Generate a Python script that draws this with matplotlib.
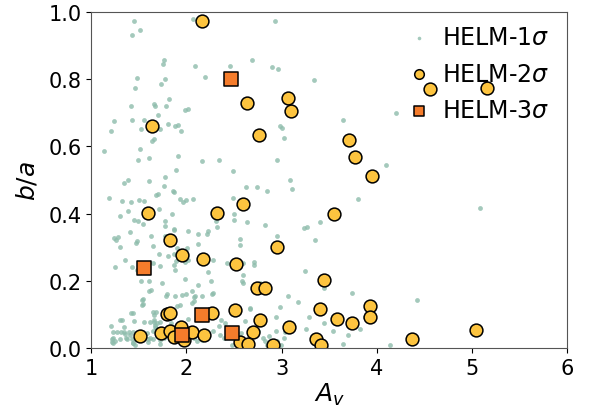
import matplotlib
matplotlib.use('Agg')
import matplotlib.pyplot as plt
import numpy as np

# HELM-1sigma (small dots)
av_1s = [1.448, 1.515, 1.43, 2.07, 2.93, 1.76, 1.75, 2.09, 2.46, 2.69, 2.895, 2.96,
         2.2, 1.48, 1.78, 3.34, 1.73, 1.46, 1.82, 1.66, 1.67, 1.79, 1.42, 2.02, 1.99,
         1.245, 1.70, 1.43, 1.56, 1.91, 1.81, 1.88, 1.21, 1.94, 1.52, 1.72, 1.66, 1.64,
         1.14, 1.51, 1.61, 1.49, 1.915, 2.16, 2.34, 2.98, 3.0, 3.03, 3.645, 4.2, 2.95,
         3.09, 3.11, 2.49, 4.10, 3.80, 5.08, 1.39, 1.34, 1.61, 1.78, 1.89, 1.855, 1.875,
         1.705, 1.68, 1.76, 1.19, 1.50, 1.56, 1.32, 1.42, 1.93, 1.96, 2.0, 2.07, 2.63,
         2.74, 2.85, 2.49, 1.30, 1.39, 1.71, 1.85, 1.45, 1.49, 1.54, 1.78, 1.78, 2.50,
         2.50, 2.31, 2.32, 2.64, 2.83, 3.24, 3.27, 3.40, 2.02, 2.12, 2.23, 2.22, 1.87,
         1.875, 1.41, 1.63, 1.78, 1.245, 1.265, 1.28, 1.48, 1.47, 1.30, 1.90, 2.01, 2.12,
         2.56, 2.56, 2.95, 3.35, 1.65, 1.36, 1.81, 1.71, 1.87, 2.02, 1.99, 1.89, 1.87,
         1.72, 1.645, 2.43, 2.6, 2.71, 2.71, 2.28, 1.25, 1.43, 1.48, 1.88, 2.23, 3.25,
         2.60, 1.52, 1.61, 1.74, 1.99, 2.26, 2.58, 2.60, 2.77, 2.79, 2.81, 3.45, 1.63,
         2.12, 2.06, 1.80, 2.0, 2.28, 3.74, 1.54, 1.54, 1.88, 2.09, 3.07, 3.17, 4.42,
         1.44, 1.685, 1.93, 2.08, 2.12, 2.26, 2.48, 2.67, 2.98, 1.325, 1.66, 1.69, 1.67,
         1.84, 2.02, 2.36, 2.41, 2.615, 2.94, 3.29, 3.45, 3.54, 3.82, 3.88, 2.94, 3.04,
         3.26, 3.70, 3.645, 4.14, 4.38,
         1.61, 1.79, 1.53, 1.53, 1.42, 1.65, 1.66, 1.30, 1.45, 1.55, 1.62, 1.655, 1.72,
         1.21, 1.34, 1.67, 1.23, 1.27, 1.31, 1.35, 1.40, 1.44, 1.50, 1.22, 1.30, 1.375,
         1.43, 1.46, 1.60, 1.65, 1.22, 1.44, 1.60, 1.72,
         1.23, 1.25, 1.23, 1.36, 1.37, 1.41, 1.44, 1.46, 1.49, 1.53, 1.59, 1.62, 1.645,
         1.685, 1.705, 1.725, 1.76, 1.80, 1.89, 1.92, 1.96, 2.04, 2.08, 2.11, 2.16, 2.22,
         2.28, 2.34, 2.35, 2.40, 2.43, 2.48, 2.52, 2.575, 2.615, 2.675, 2.75, 2.81, 2.83,
         2.85, 2.87, 2.95, 2.99, 3.03,
         1.95, 2.085, 2.16, 2.27, 2.06, 1.90, 2.67]
ba_1s = [0.974, 0.945, 0.93, 0.98, 0.974, 0.856, 0.846, 0.84, 0.838, 0.856, 0.835, 0.83,
         0.806, 0.804, 0.80, 0.796, 0.786, 0.773, 0.74, 0.726, 0.72, 0.72, 0.72, 0.712, 0.707,
         0.676, 0.694, 0.677, 0.677, 0.664, 0.665, 0.659, 0.645, 0.645, 0.65, 0.652, 0.622, 0.615,
         0.587, 0.591, 0.565, 0.56, 0.57, 0.556, 0.558, 0.66, 0.653, 0.625, 0.677, 0.698, 0.558,
         0.499, 0.472, 0.528, 0.543, 0.444, 0.417, 0.50, 0.49, 0.498, 0.508, 0.53, 0.466, 0.464,
         0.459, 0.454, 0.481, 0.445, 0.441, 0.436, 0.438, 0.434, 0.443, 0.434, 0.44, 0.444, 0.48,
         0.48, 0.467, 0.447, 0.394, 0.407, 0.414, 0.399, 0.38, 0.377, 0.37, 0.377, 0.363, 0.399,
         0.38, 0.379, 0.361, 0.374, 0.367, 0.357, 0.359, 0.374, 0.347, 0.34, 0.347, 0.34, 0.355,
         0.35, 0.344, 0.333, 0.332, 0.327, 0.322, 0.33, 0.317, 0.312, 0.30, 0.296, 0.298, 0.31,
         0.323, 0.305, 0.334, 0.322, 0.302, 0.263, 0.273, 0.28, 0.28, 0.263, 0.256, 0.258, 0.248,
         0.243, 0.254, 0.253, 0.253, 0.255, 0.248, 0.263, 0.242, 0.24, 0.232, 0.233, 0.225, 0.228,
         0.216, 0.20, 0.198, 0.194, 0.205, 0.20, 0.198, 0.193, 0.193, 0.186, 0.177, 0.179, 0.174,
         0.187, 0.169, 0.16, 0.16, 0.163, 0.163, 0.145, 0.131, 0.154, 0.154, 0.156, 0.137, 0.142,
         0.105, 0.108, 0.128, 0.139, 0.114, 0.111, 0.114, 0.119, 0.121, 0.084, 0.083, 0.075, 0.068,
         0.074, 0.085, 0.083, 0.073, 0.079, 0.091, 0.092, 0.074, 0.05, 0.057, 0.092, 0.05, 0.047,
         0.057, 0.04, 0.012, 0.01, 0.03,
         0.17, 0.156, 0.143, 0.129, 0.103, 0.106, 0.098, 0.083, 0.081, 0.076, 0.076, 0.078, 0.076,
         0.066, 0.063, 0.063, 0.048, 0.048, 0.048, 0.048, 0.048, 0.048, 0.048, 0.027, 0.027, 0.027,
         0.027, 0.027, 0.027, 0.027, 0.017, 0.015, 0.017, 0.013,
         0.030, 0.022, 0.015, 0.043, 0.030, 0.040, 0.015, 0.010, 0.040, 0.040, 0.045, 0.030, 0.050,
         0.060, 0.040, 0.025, 0.030, 0.050, 0.045, 0.030, 0.040, 0.050, 0.030, 0.020, 0.025, 0.038,
         0.050, 0.064, 0.040, 0.030, 0.050, 0.010, 0.025, 0.045, 0.020, 0.040, 0.050, 0.030, 0.020,
         0.010, 0.035, 0.020, 0.010, 0.030,
         0.158, 0.151, 0.154, 0.161, 0.134, 0.126, 0.116]

# HELM-2sigma (yellow circles)
av_2s = [2.166, 2.64, 2.76, 1.637, 4.56, 5.16, 3.066, 3.10, 3.71, 3.77, 3.955, 3.55,
         2.957, 3.45, 2.74, 2.83, 3.40, 2.775, 3.58, 3.74, 3.93, 3.93, 2.705, 3.08,
         3.36, 3.41, 2.915, 4.375, 5.04, 1.60, 2.32, 2.60, 1.83, 1.95, 2.17, 2.52,
         1.795, 1.83, 2.27, 2.51, 1.515, 1.73, 1.83, 1.94, 1.865, 1.97, 2.06, 2.19,
         2.565, 2.65]
ba_2s = [0.973, 0.73, 0.633, 0.659, 0.771, 0.774, 0.744, 0.704, 0.619, 0.567, 0.513, 0.40,
         0.299, 0.203, 0.178, 0.178, 0.115, 0.084, 0.085, 0.074, 0.126, 0.091, 0.049, 0.063,
         0.026, 0.009, 0.009, 0.026, 0.054, 0.403, 0.403, 0.429, 0.322, 0.277, 0.264, 0.251,
         0.100, 0.104, 0.104, 0.114, 0.037, 0.046, 0.051, 0.061, 0.032, 0.025, 0.048, 0.038,
         0.019, 0.011]

# HELM-3sigma (orange squares)
av_3s = [2.47, 1.56, 2.16, 1.955, 2.48]
ba_3s = [0.80, 0.239, 0.098, 0.040, 0.046]

fig = plt.figure(figsize=(5.92, 4.14), dpi=100)
ax = fig.add_axes([0.154, 0.157, 0.804, 0.812])

ax.scatter(av_1s, ba_1s, s=12, color='#8dbcab', alpha=0.8, linewidths=0,
           label=r'HELM-1$\sigma$', zorder=1)
ax.scatter(av_2s, ba_2s, s=85, color='#fdc43f', edgecolors='black', linewidths=1.1,
           label=r'HELM-2$\sigma$', zorder=2)
ax.scatter(av_3s, ba_3s, s=110, marker='s', color='#f57c2b', edgecolors='black',
           linewidths=1.1, label=r'HELM-3$\sigma$', zorder=3)

ax.set_xlim(1, 6)
ax.set_ylim(0, 1)
ax.set_xticks([1, 2, 3, 4, 5, 6])
ax.set_yticks(np.arange(0, 1.01, 0.2))
ax.tick_params(labelsize=15)
for sp in ax.spines.values():
    sp.set_color('#555555')

ax.set_xlabel(r'$A_v$', fontsize=18, labelpad=2)
ax.set_ylabel(r'$b/a$', fontsize=18, labelpad=6)

ax.legend(loc='upper right', bbox_to_anchor=(0.988, 0.995), frameon=False,
          fontsize=17, handletextpad=0.3, handlelength=1.4, labelspacing=0.52,
          markerscale=0.75, borderaxespad=0.1)

fig.savefig('out.png', dpi=100)
